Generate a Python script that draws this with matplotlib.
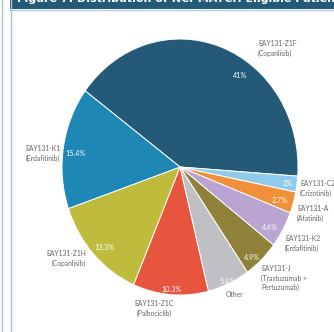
import matplotlib.pyplot as plt
from matplotlib.patches import Rectangle
from matplotlib.lines import Line2D

# subprotocol arms, clockwise from the top
arms = ["EAY131-Z1F\n(Copanlisib)", "EAY131-C2\n(Crizotinib)", "EAY131-A\n(Afatinib)",
        "EAY131-K2\n(Erdafitinib)", "EAY131-J\n(Trastuzumab +\nPertuzumab)", "Other",
        "EAY131-Z1C\n(Palbociclib)", "EAY131-Z1H\n(Copanlisib)", "EAY131-K1\n(Erdafitinib)"]
shares = [41, 2, 2.7, 4.6, 4.9, 5.8, 10.3, 13.3, 15.4]
pct_text = ["41%", "2%", "2.7%", "4.6%", "4.9%", "5.8%", "10.3%", "13.3%", "15.4%"]
colors = ["#245a78", "#8fcbec", "#f0913a", "#b9a4d2", "#8f8139", "#bfc0c3",
          "#e8553f", "#bfbc3d", "#1e87b6"]

W, H = 334, 332
fig = plt.figure(figsize=(W / 100, H / 100), dpi=100)
fig.patch.set_facecolor("white")

def fx(px):
    return px / W

def fy(py):
    return 1 - py / H

# pie, slightly taller than wide
cx, cy, rx, ry = 180, 167, 118, 128
ax = fig.add_axes([fx(cx - rx), fy(cy + ry), 2 * rx / W, 2 * ry / H])
ax.pie(shares, colors=colors, startangle=143.5, counterclock=False,
       wedgeprops=dict(edgecolor="white", linewidth=0.7))
ax.set_aspect("auto")
ax.set_xlim(-1, 1)
ax.set_ylim(-1, 1)
ax.axis("off")

font = "Lato"
grey = "#666666"

# arm names: (x, y, ha)
name_pos = [(258, 40, "left"), (300, 180, "left"), (297, 205, "left"),
            (285, 235, "left"), (261, 265, "left"), (234, 291, "center"),
            (154, 300, "center"), (86, 250, "right"), (60, 145, "right")]
for name, (x, y, ha) in zip(arms, name_pos):
    fig.text(fx(x), fy(y), name, ha=ha, va="top", fontsize=4.9,
             color=grey, family=font, linespacing=1.4)

pct_pos = [(240, 75), (288, 184), (280, 200), (270, 228), (252, 258),
           (228, 281), (172, 290), (104, 247), (76, 153)]
for t, (x, y) in zip(pct_text, pct_pos):
    fig.text(fx(x), fy(y), t, ha="center", va="center", fontsize=5.2,
             color="white", family=font)

# page frame and title banner
fig.add_artist(Rectangle((fx(10), fy(8.5)), 1 - fx(10), 8.5 / H,
                         transform=fig.transFigure, color="#245a78", lw=0))
fig.add_artist(Line2D([fx(10), 1], [fy(9.5), fy(9.5)], transform=fig.transFigure,
                      color="#b5cfdc", lw=1))
for xl in (1.5, 10.5):
    fig.add_artist(Line2D([fx(xl), fx(xl)], [0, 1], transform=fig.transFigure,
                          color="#a9c6d6", lw=1))
fig.text(fx(17), fy(2.5), "Figure 7: Distribution of NCI-MATCH Eligible Patients",
         ha="left", va="baseline", fontsize=8, color="white",
         fontweight="bold", family="DejaVu Sans")

fig.savefig("out.png", dpi=100)
